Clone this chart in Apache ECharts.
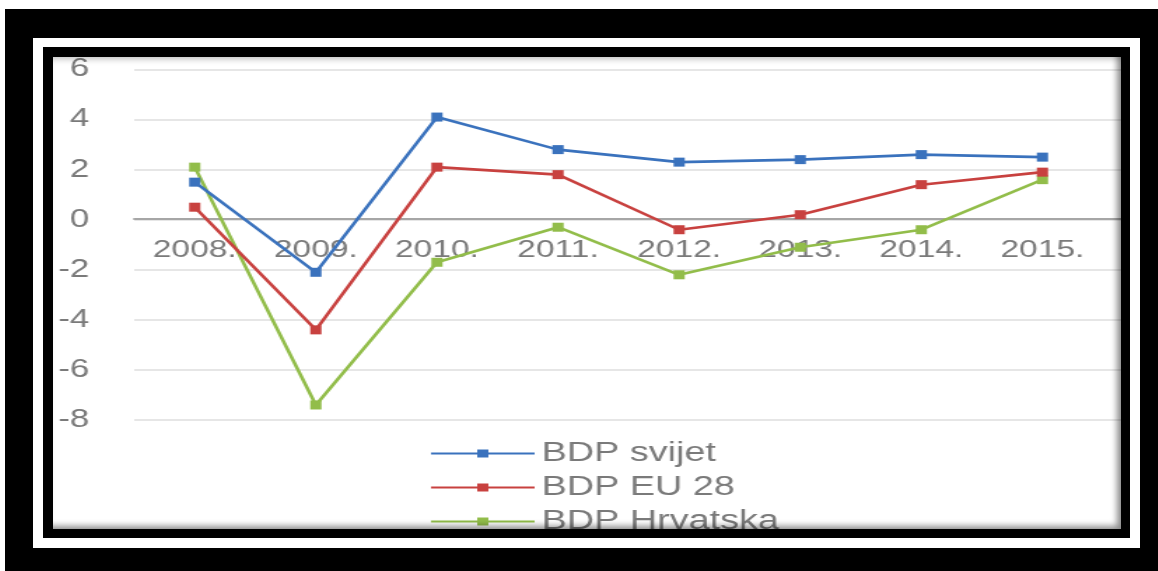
<!DOCTYPE html>
<html>
<head>
<meta charset="utf-8">
<script src="https://cdn.jsdelivr.net/npm/echarts@6/dist/echarts.min.js"></script>
<style>
  html, body { margin: 0; padding: 0; background: #fff; width: 1158px; height: 571px; overflow: hidden; }
  .box { position: absolute; }
  #f1 { left: 5px; top: 9px; width: 1153px; height: 562px; background: #000; }
  #f2 { left: 33px; top: 38px; width: 1107px; height: 510px; background: #fff; }
  #f3 { left: 43px; top: 47px; width: 1087px; height: 491px; background: #000; }
  #clip { left: 53px; top: 57px; width: 1068px; height: 472px; background: #fff; overflow: hidden; }
  #chart { position: absolute; left: 0; top: 0; width: 900px; height: 580px; transform: scaleX(1.4); transform-origin: 0 0; filter: blur(0.5px); }
  #shade { left: 53px; top: 57px; width: 1068px; height: 472px; box-shadow: inset -6px -5px 6px -2px rgba(0,0,0,0.45), inset 0 6px 6px -4px rgba(0,0,0,0.25); pointer-events: none; }
</style>
</head>
<body>
<div class="box" id="f1"></div>
<div class="box" id="f2"></div>
<div class="box" id="f3"></div>
<div class="box" id="clip"><div id="chart"></div></div>
<div class="box" id="shade"></div>
<script>
var categories = ['2008.', '2009.', '2010.', '2011.', '2012.', '2013.', '2014.', '2015.'];
var seriesNames = ['BDP svijet', 'BDP EU 28', 'BDP Hrvatska'];
var svijet = [1.5, -2.1, 4.1, 2.8, 2.3, 2.4, 2.6, 2.5];
var eu28 = [0.5, -4.4, 2.1, 1.8, -0.4, 0.2, 1.4, 1.9];
var hrvatska = [2.1, -7.4, -1.7, -0.3, -2.2, -1.1, -0.4, 1.6];
var yTicks = { min: -8, max: 6, interval: 2 };

var colors = ['#3a72bd', '#c8413f', '#92bd4a'];
var values = [svijet, eu28, hrvatska];
// extra empty band so the grid runs on past 2015 as in the cropped original
var xCats = categories.concat(['']);

var gridTop = 11, gridHeight = 352;
// distance from the grid bottom up to the value 0, so the category axis sits on zero
var zeroOffset = gridHeight * (0 - yTicks.min) / (yTicks.max - yTicks.min);

var chart = echarts.init(document.getElementById('chart'), null, { renderer: 'canvas' });
var font = 'Liberation Sans, Arial, sans-serif';
chart.setOption({
  animation: false,
  textStyle: { fontFamily: font },
  grid: { left: 58, top: gridTop, width: 778.5, height: gridHeight, containLabel: false },
  xAxis: {
    type: 'category',
    data: xCats,
    boundaryGap: true,
    position: 'bottom',
    offset: -zeroOffset,
    axisLine: { onZero: false, lineStyle: { color: '#a6a6a6', width: 1.8 } },
    axisTick: { show: false },
    axisLabel: { color: '#7a7a7a', fontSize: 24, margin: 20, fontFamily: font, interval: 0 },
    splitLine: { show: false }
  },
  yAxis: {
    type: 'value',
    min: yTicks.min, max: yTicks.max, interval: yTicks.interval,
    axisLine: { show: false },
    axisTick: { show: false },
    axisLabel: { color: '#7a7a7a', fontSize: 25, margin: 32, fontFamily: font },
    splitLine: { lineStyle: { color: '#dedede', width: 1.6 } }
  },
  legend: {
    orient: 'vertical',
    left: 264, top: 378,
    itemWidth: 74, itemHeight: 10, itemGap: 7,
    textStyle: { fontSize: 27, color: '#7a7a7a', fontFamily: font },
    data: seriesNames
  },
  series: seriesNames.map(function (name, i) {
    return {
      name: name,
      type: 'line',
      data: values[i],
      symbol: 'rect',
      symbolSize: [8, 9],
      showSymbol: true,
      itemStyle: { color: colors[i] },
      lineStyle: { color: colors[i], width: 2.6 },
      z: 3 + (2 - i)
    };
  })
});
</script>
</body>
</html>
